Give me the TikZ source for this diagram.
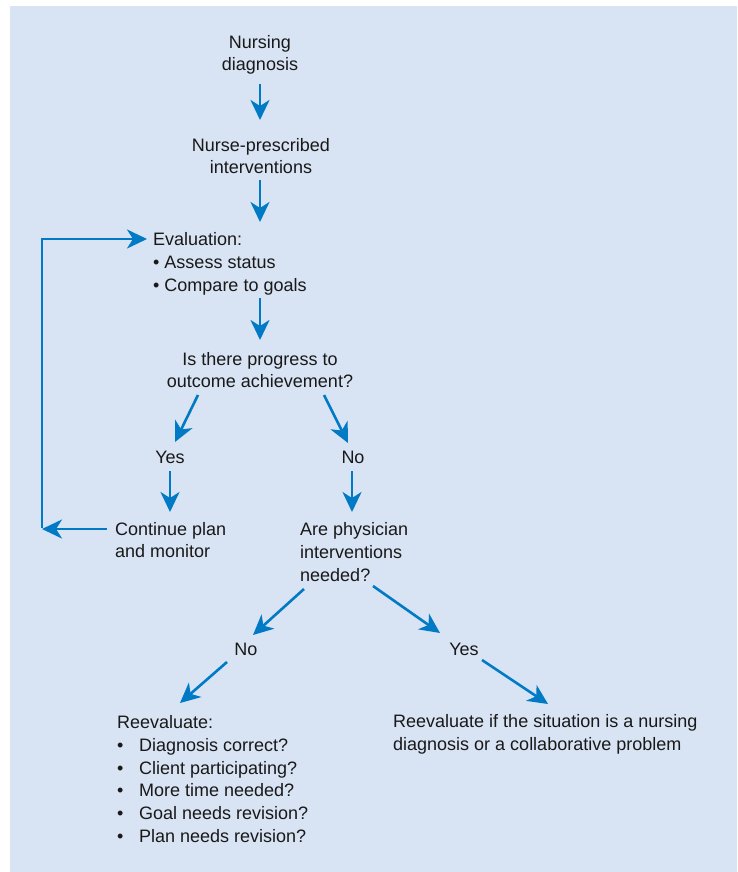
\documentclass[tikz,border=0pt]{standalone}
\usepackage{fontspec}
\setmainfont{Liberation Sans}
\usetikzlibrary{arrows.meta}
\definecolor{bg}{RGB}{216,227,243}
\definecolor{arrowblue}{RGB}{0,122,197}
\definecolor{ink}{RGB}{25,25,25}
\begin{document}
\begin{tikzpicture}[x=1pt,y=-1pt,
  txt/.style={inner sep=0pt, font=\fontsize{18}{22.7}\selectfont, text=ink},
  arr/.style={draw=arrowblue, line width=2.6pt, -{Stealth[length=20pt,width=19pt,inset=6pt]}},
  ln/.style={draw=arrowblue, line width=2.6pt}]
\useasboundingbox (0,0) rectangle (737,872);
\fill[bg] (10,6) rectangle (737,872);

\node[txt, align=center] (nd) at (260,54.8) {Nursing\\diagnosis};
\node[txt, align=center] (nurse) at (261,156) {Nurse-prescribed\\interventions};
\node[txt, align=left, anchor=west] (eval) at (153,264) {Evaluation:\\• Assess status\\• Compare to goals};
\node[txt, align=center] (q) at (260,370) {Is there progress to\\outcome achievement?};
\node[txt] (yes1) at (170,457) {Yes};
\node[txt] (no1) at (353,457) {No};
\node[txt, align=left, anchor=west] (cont) at (115,540) {Continue plan\\and monitor};
\node[txt, align=left, anchor=west] (phys) at (300,552) {Are physician\\interventions\\needed?};
\node[txt] (no2) at (246,649) {No};
\node[txt] (yes2) at (464,649) {Yes};
\node[txt, align=left, anchor=west] (reev) at (117,779) {Reevaluate:\\
\makebox[22pt][l]{•}Diagnosis correct?\\
\makebox[22pt][l]{•}Client participating?\\
\makebox[22pt][l]{•}More time needed?\\
\makebox[22pt][l]{•}Goal needs revision?\\
\makebox[22pt][l]{•}Plan needs revision?};
\node[txt, align=left, anchor=west] (reev2) at (393,734.5) {Reevaluate if the situation is a nursing\\diagnosis or a collaborative problem};

\coordinate (c1) at (42,529);
\coordinate (c2) at (42,239);

\draw[arr] ([shift={(0,29.2)}]nd.center) -- ([shift={(0,-36)}]nd.center |- nurse.center);
\draw[arr] ([shift={(-1,24)}]nurse.center) -- ([shift={(107,-42)}]eval.west);
\draw[arr] ([shift={(107,34)}]eval.west) -- ([shift={(0,-30)}]q.center);
\draw[arr] ([shift={(-62,25)}]q.center) -- ([shift={(5,-15)}]yes1.center);
\draw[arr] ([shift={(64,25)}]q.center) -- ([shift={(-5,-14)}]no1.center);
\draw[arr] ([shift={(0,14)}]yes1.center) -- ([shift={(55,-28)}]cont.west);
\draw[arr] ([shift={(-1,14)}]no1.center) -- ([shift={(52,-40)}]phys.west);
\draw[arr] ([shift={(4,37)}]phys.west) -- ([shift={(7,-14)}]no2.center);
\draw[arr] ([shift={(73,34)}]phys.west) -- ([shift={(-24,-16)}]yes2.center);
\draw[arr] ([shift={(-19,13)}]no2.center) -- ([shift={(63,-76)}]reev.west);
\draw[arr] ([shift={(18,11)}]yes2.center) -- ([shift={(155,-30.5)}]reev2.west);
\draw[arr] ([shift={(-8,-11)}]cont.west) -- (c1);
\draw[arr, line join=miter] ([shift={(0,-1.3)}]c1) -- (c2) -- ([shift={(-6,-25)}]eval.west);
\end{tikzpicture}
\end{document}
